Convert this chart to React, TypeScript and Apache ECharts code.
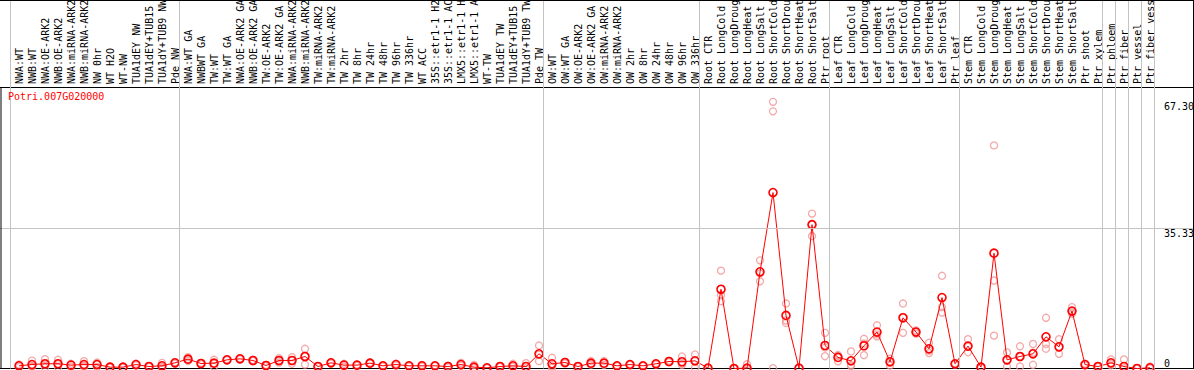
import React, { useEffect, useRef } from "react";
import * as echarts from "echarts";

const geneName = "Potri.007G020000";

const categories = [
  "NWA:WT", "NWB:WT", "NWA:OE-ARK2", "NWB:OE-ARK2", "NWA:miRNA-ARK2", "NWB:miRNA-ARK2",
  "NW 0hr", "WT H2O", "WT-NW", "TUA1dEY NW", "TUA1dEY+TUB15 NW", "TUA1dY+TUB9 NW", "Pde NW",
  "NWA:WT GA", "NWBWT GA", "TW:WT", "TW:WT GA", "NWA:OE-ARK2 GA", "NWB:OE-ARK2 GA",
  "TW:OE-ARK2", "TW:OE-ARK2 GA", "NWA:miRNA-ARK2", "NWB:miRNA-ARK2", "TW:miRNA-ARK2",
  "TW:miRNA-ARK2", "TW 2hr", "TW 8hr", "TW 24hr", "TW 48hr", "TW 96hr", "TW 336hr", "WT ACC",
  "35S::etr1-1 H2O", "35S::etr1-1 ACC", "LMX5::etr1-1 H2O", "LMX5::etr1-1 ACC", "WT-TW",
  "TUA1dEY TW", "TUA1dEY+TUB15 TW", "TUA1dY+TUB9 TW", "Pde TW",
  "OW:WT", "OW:WT GA", "OW:OE-ARK2", "OW:OE-ARK2 GA", "OW:miRNA-ARK2", "OW:miRNA-ARK2",
  "OW 2hr", "OW 8hr", "OW 24hr", "OW 48hr", "OW 96hr", "OW 336hr",
  "Root CTR", "Root LongCold", "Root LongDrought", "Root LongHeat", "Root LongSalt",
  "Root ShortCold", "Root ShortDrought", "Root ShortHeat", "Root ShortSalt", "Ptr root",
  "Leaf CTR", "Leaf LongCold", "Leaf LongDrought", "Leaf LongHeat", "Leaf LongSalt",
  "Leaf ShortCold", "Leaf ShortDrought", "Leaf ShortHeat", "Leaf ShortSalt", "Ptr leaf",
  "Stem CTR", "Stem LongCold", "Stem LongDrought", "Stem LongHeat", "Stem LongSalt",
  "Stem ShortCold", "Stem ShortDrought", "Stem ShortHeat", "Stem ShortSalt",
  "Ptr shoot", "Ptr xylem", "Ptr phloem", "Ptr fiber", "Ptr vessel", "Ptr fiber vessel",
];

const meanValues = [
  0.68, 1.0, 1.2, 1.2, 0.85, 1.0, 1.0, 0.34, 0.34, 1.0, 0.5, 0.68, 1.43,
  2.36, 1.26, 1.35, 2.19, 2.44, 2.02, 0.76, 2.02, 2.02, 3.03, 0.5, 1.43, 0.85, 0.85, 1.35,
  0.68, 1.0, 0.68, 0.68, 0.68, 0.5, 1.0, 0.34, 0.17, 0.5, 0.68, 0.5, 3.71,
  1.18, 1.52, 0.5, 1.35, 1.35, 0.68, 1.0, 0.68, 1.18, 1.77, 1.7, 1.94,
  0.1, 20.0, 0, 0.1, 24.4, 44.4, 13.4, 0.1, 36.3, 5.8,
  2.8, 1.94, 5.74, 9.2, 1.69, 12.8, 9.2, 4.97, 17.9, 1.18,
  5.65, 0.34, 29.1, 2.19, 3.03, 3.71, 8.0, 5.48, 14.5, 1.0,
  0.5, 1.43, 0.5, 0, 0.17,
];

const replicateValues = [
  [1.0, 0.4], [2.0, 0.5, 0.6], [2.35, 0.3, 1.0], [2.2, 0.3, 1.1], [1.2, 0.5],
  [1.85, 0.5, 0.7], [1.5, 0.4, 1.1], [0.5, 0.2], [0.4, 0.2], [1.2, 0.8], [0.6, 0.4],
  [1.43, 0.3, 0.3], [1.6, 1.2],
  [2.86, 1.9, 2.3], [1.4, 1.1], [2.2, 0.5, 1.3], [2.3, 2.1], [2.6, 2.3], [2.2, 1.9],
  [0.9, 0.6], [2.6, 1.5, 2.0], [2.86, 1.2, 2.0], [4.97, 1.0, 3.1], [0.6, 0.4], [1.6, 1.3],
  [1.2, 0.5], [1.0, 0.7], [1.5, 1.2], [0.8, 0.5], [1.2, 0.8], [0.8, 0.5], [0.9, 0.5],
  [0.8, 0.6], [0.7, 0.3], [1.4, 0.7], [0.9, 0.1], [0.2, 0.1], [0.6, 0.4], [1.2, 0.4],
  [1.35, 0.1], [5.8, 1.85, 3.5],
  [2.7, 0.2, 0.6], [1.7, 1.3], [0.6, 0.4], [1.9, 1.0, 1.2], [1.9, 0.9], [0.8, 0.6],
  [1.1, 0.9], [0.8, 0.6], [1.3, 1.0], [2.0, 1.6], [3.03, 0.9, 1.2], [3.54, 0.2, 2.0],
  [0.2, 0.0], [24.7, 18.5, 17.0], [0, 0], [1.1, 0, 0], [27.3, 22.0, 24.0],
  [67.3, 64.9, 0.1], [16.4, 12.1, 11.5], [0.1, 0.1], [39.1, 33.4, 36.4], [9.0, 3.1, 5.3],
  [1.8, 3.2, 3.4], [4.3, 0.6, 0.9], [7.5, 3.37, 6.3], [10.9, 8.6, 8.1], [0.76, 2.5, 1.8],
  [16.4, 9.0, 13.0], [8.8, 9.6, 9.2], [6.5, 3.9, 4.5], [23.4, 14.1, 15.5], [1.3, 1.0],
  [7.4, 4.1, 5.5], [0.5, 0.2], [56.3, 22.2, 8.3], [4.05, 0.5, 2.0], [5.6, 0.5, 3.0],
  [6.2, 0.93, 4.0], [12.8, 6.2, 5.0], [7.4, 3.7, 5.3], [15.5, 13.8, 14.2], [1.2, 0.8],
  [0.6, 0.4], [2.3, 0.8, 1.2], [2.3, 0.1], [0, 0], [0.5, 0.0],
];

const groupStarts = [0, 13, 41, 53, 63, 73, 84, 85, 86, 87, 88];
const yTickLabels = [35.33, 67.3];
const yZeroLabel = [0];
const yGridValues = [35.33];

const FONT = "DejaVu Sans Mono";

export default function App() {
  const ref = useRef<HTMLDivElement>(null);

  useEffect(() => {
    document.body.style.margin = "0";
    if (!ref.current) return;
    const chart = echarts.init(ref.current, undefined, { renderer: "svg" });

    const xMin = -19 / 13;
    const xMax = xMin + 1193 / 13;
    const lineOffset = 8.5 / 13;

    const meanData = meanValues.map((v, i) => [i, v]);
    const repData = replicateValues.flatMap((reps, i) => reps.map((v) => [i, v]));

    chart.setOption({
      animation: false,
      backgroundColor: "#ffffff",
      title: {
        text: geneName,
        left: 8,
        top: 91,
        padding: 0,
        textStyle: { color: "#ff0000", fontSize: 10, fontFamily: FONT, fontWeight: "normal" },
      },
      grid: { left: 0, right: 1, top: 0, bottom: 1.5, containLabel: false, outerBoundsMode: "none" },
      xAxis: [
        {
          type: "value",
          min: xMin,
          max: xMax,
          position: "bottom",
          axisLine: { show: true, lineStyle: { color: "#000", width: 1 } },
          axisTick: { show: false },
          axisLabel: { show: false },
          splitLine: { show: false },
        },
        {
          type: "value",
          min: xMin,
          max: xMax,
          position: "top",
          offset: -87,
          axisLine: { show: true, onZero: false, lineStyle: { color: "#000", width: 1 } },
          axisTick: { show: false },
          splitLine: { show: false },
          axisLabel: {
            show: true,
            customValues: categories.map((_, i) => i),
            formatter: (v: number) => categories[Math.round(v)] ?? "",
            rotate: -90,
            align: "left",
            verticalAlign: "middle",
            margin: 3,
            color: "#000",
            fontSize: 10,
            fontFamily: FONT,
            showMinLabel: true,
            showMaxLabel: true,
          },
        },
      ],
      yAxis: [
        {
          type: "value",
          min: 0,
          max: 93,
          position: "right",
          axisLine: { show: true, onZero: false, lineStyle: { color: "#000", width: 1 } },
          axisTick: { show: false },
          splitLine: { show: false },
          axisLabel: {
            show: true,
            inside: true,
            margin: 29,
            align: "left",
            customValues: yTickLabels,
            formatter: (v: number) => v.toFixed(2),
            verticalAlign: "top",
            color: "#000",
            fontSize: 10,
            fontFamily: FONT,
            showMinLabel: true,
            showMaxLabel: true,
          },
        },
        {
          type: "value",
          min: 0,
          max: 93,
          position: "right",
          axisLine: { show: false },
          axisTick: { show: false },
          splitLine: { show: false },
          axisLabel: {
            show: true,
            inside: true,
            margin: 29,
            align: "left",
            customValues: yZeroLabel,
            formatter: (v: number) => String(v),
            verticalAlign: "bottom",
            color: "#000",
            fontSize: 10,
            fontFamily: FONT,
            showMinLabel: true,
            showMaxLabel: true,
          },
        },
      ],
      graphic: [
        { type: "line", shape: { x1: 1, y1: 87, x2: 1, y2: 369 }, style: { stroke: "#000", lineWidth: 1 }, z: 10 },
        { type: "line", shape: { x1: 0, y1: 0.5, x2: 1194, y2: 0.5 }, style: { stroke: "#000", lineWidth: 1 }, z: 10 },
      ],
      series: [
        {
          type: "scatter",
          xAxisIndex: 0,
          yAxisIndex: 0,
          data: repData,
          symbol: "circle",
          symbolSize: 7,
          itemStyle: { color: "transparent", borderColor: "#f09494", borderWidth: 1.3 },
          z: 2,
          silent: true,
          markLine: {
            silent: true,
            symbol: "none",
            label: { show: false },
            lineStyle: { color: "#c4c4c4", width: 1, type: "solid" },
            data: [
              ...groupStarts.map((s) => ({ xAxis: s - lineOffset })),
              ...yGridValues.map((v) => ({ yAxis: v })),
            ],
          },
        },
        {
          type: "line",
          xAxisIndex: 0,
          yAxisIndex: 0,
          data: meanData,
          symbol: "circle",
          symbolSize: 8,
          showSymbol: true,
          showAllSymbol: true,
          lineStyle: { color: "#ff0000", width: 1 },
          itemStyle: { color: "transparent", borderColor: "#ff0000", borderWidth: 1.6 },
          z: 3,
          silent: true,
        },
      ],
    });

    return () => chart.dispose();
  }, []);

  return <div ref={ref} style={{ width: 1194, height: 370 }} />;
}
